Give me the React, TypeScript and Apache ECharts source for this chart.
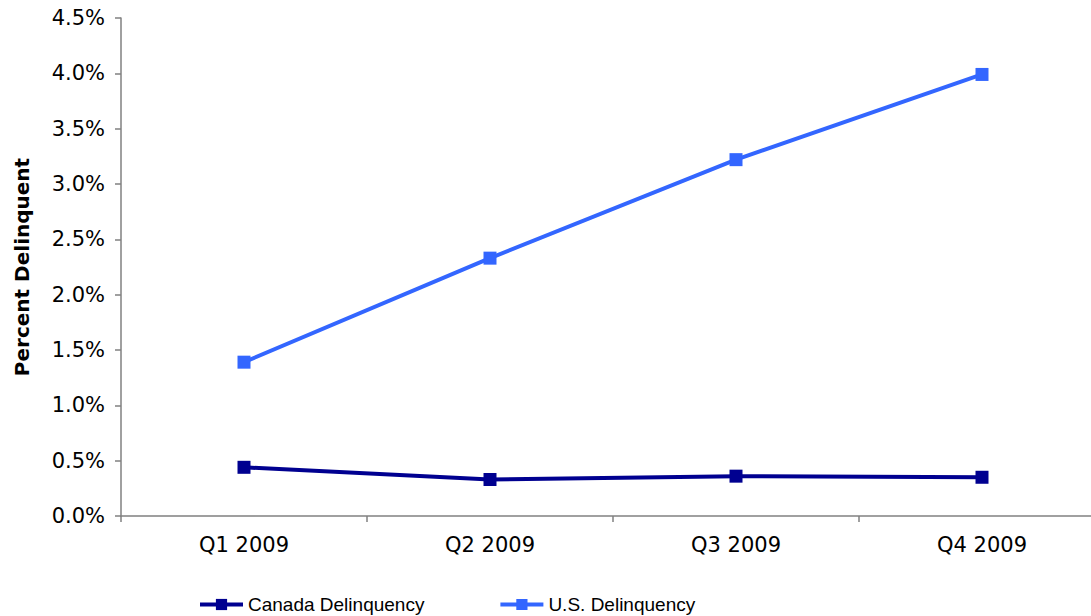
import React, { useEffect, useRef } from "react";
import * as echarts from "echarts";

const categories = ["Q1 2009", "Q2 2009", "Q3 2009", "Q4 2009"];
const canadaValues = [0.44, 0.33, 0.36, 0.35];
const usValues = [1.39, 2.33, 3.22, 3.99];
const seriesNames = ["Canada Delinquency", "U.S. Delinquency"];
const yTitle = "Percent Delinquent";

export default function App() {
  const ref = useRef<HTMLDivElement>(null);
  useEffect(() => {
    if (!ref.current) return;
    const chart = echarts.init(ref.current, undefined, { renderer: "svg" });
    const font = "'DejaVu Sans', Verdana, sans-serif";
    chart.setOption({
      animation: false,
      backgroundColor: "#ffffff",
      grid: { left: 121, right: 0, top: 18, bottom: 100, containLabel: false },
      legend: {
        bottom: -3,
        left: 193,
        itemWidth: 43,
        itemHeight: 14,
        itemGap: 74,
        lineStyle: { width: 4 },
        textStyle: { fontFamily: "'Liberation Sans', Arial, sans-serif", fontSize: 19, color: "#000" },
        data: seriesNames,
      },
      xAxis: {
        type: "category",
        data: categories,
        boundaryGap: true,
        axisLine: { lineStyle: { color: "#808080", width: 1.5 } },
        axisTick: { show: true, length: 6, alignWithLabel: false, lineStyle: { color: "#808080", width: 1.5 } },
        axisLabel: { fontFamily: font, fontSize: 21, color: "#000", margin: 18 },
        splitLine: { show: false },
      },
      yAxis: {
        type: "value",
        min: 0,
        max: 4.5,
        interval: 0.5,
        name: yTitle,
        nameLocation: "middle",
        nameGap: 89,
        nameTextStyle: { fontFamily: font, fontSize: 20, fontWeight: "bold", color: "#000" },
        axisLine: { show: true, lineStyle: { color: "#808080", width: 1.5 } },
        axisTick: { show: true, length: 6, lineStyle: { color: "#808080", width: 1.5 } },
        axisLabel: {
          fontFamily: font,
          fontSize: 21,
          color: "#000",
          margin: 16,
          formatter: (v: number) => v.toFixed(1) + "%",
        },
        splitLine: { show: false },
      },
      series: [
        {
          name: seriesNames[0],
          type: "line",
          data: canadaValues,
          symbol: "rect",
          symbolSize: 13,
          lineStyle: { color: "#000090", width: 4 },
          itemStyle: { color: "#000090" },
        },
        {
          name: seriesNames[1],
          type: "line",
          data: usValues,
          symbol: "rect",
          symbolSize: 13,
          lineStyle: { color: "#3366FF", width: 4 },
          itemStyle: { color: "#3366FF" },
        },
      ],
    });
    return () => chart.dispose();
  }, []);
  return (
    <div style={{ position: "fixed", left: 0, top: 0, width: 1091, height: 616, overflow: "hidden" }}>
      <div ref={ref} style={{ width: 1105, height: 616 }} />
    </div>
  );
}
